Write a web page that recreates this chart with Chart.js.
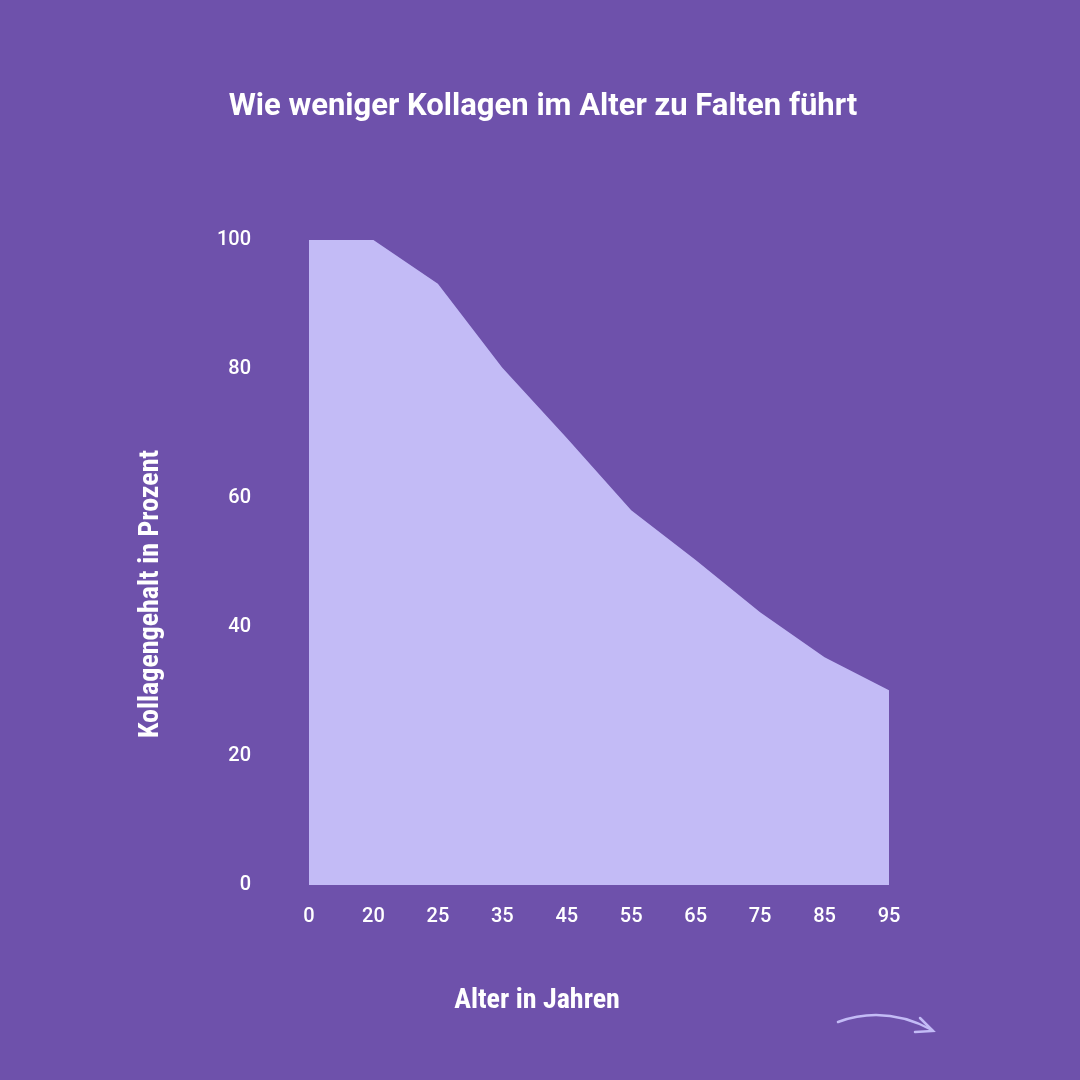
<!DOCTYPE html>
<html><head><meta charset="utf-8">
<script src="https://cdn.jsdelivr.net/npm/chart.js@4"></script>
<style>html,body{margin:0;padding:0;background:#6e51ab;}canvas{display:block;}</style>
</head><body>
<canvas id="c" width="1080" height="1080"></canvas>
<script>
const ages = ["0","20","25","35","45","55","65","75","85","95"];
const collagen = [100,100,93.2,80.2,69.3,58.1,50.4,42.3,35.3,30.2];
const yTicks = [0,20,40,60,80,100];
const title = "Wie weniger Kollagen im Alter zu Falten führt";
const xTitle = "Alter in Jahren";
const yTitle = "Kollagengehalt in Prozent";

const deco = {
  id:'deco',
  afterDraw(chart){
    const ctx = chart.ctx;
    ctx.save();
    ctx.fillStyle = '#ffffff';
    ctx.textAlign = 'center'; ctx.textBaseline = 'middle';
    ctx.font = 'bold 31px Roboto';
    ctx.fillText(title, 543, 107);
    ctx.font = 'bold 28px "Roboto Condensed", Roboto';
    ctx.fillText(xTitle, 537, 1001);
    ctx.translate(151, 594); ctx.rotate(-Math.PI/2);
    ctx.fillText(yTitle, 0, 0);
    ctx.restore();
    ctx.save();
    ctx.strokeStyle = '#c3bbf6'; ctx.lineWidth = 2.5; ctx.lineCap='round';
    ctx.beginPath(); ctx.moveTo(838,1022); ctx.quadraticCurveTo(885,1005,932,1030); ctx.stroke();
    ctx.beginPath(); ctx.moveTo(920,1018); ctx.lineTo(933,1031); ctx.lineTo(915,1032); ctx.stroke();
    ctx.restore();
  }
};

new Chart(document.getElementById('c'), {
  type:'line',
  data:{labels:ages, datasets:[{data:collagen, fill:'origin', backgroundColor:'#c3bbf6', borderWidth:0, pointRadius:0, tension:0}]},
  options:{
    responsive:false, animation:false,
    layout:{padding:{top:240,right:191,bottom:0,left:0}},
    plugins:{legend:{display:false}, tooltip:{enabled:false}},
    scales:{
      x:{offset:false, grid:{display:false}, border:{display:false},
         ticks:{color:'#fff', font:{family:'Roboto', size:20, weight:'500'}, padding:12, maxRotation:0},
         afterFit(s){ s.height = 1080-885; }},
      y:{min:0,max:100, grid:{display:false}, border:{display:false},
         afterBuildTicks(s){ s.ticks = yTicks.map(v=>({value:v})); },
         ticks:{color:'#fff', font:{family:'Roboto', size:20, weight:'500'}, padding:50},
         afterFit(s){ s.width = 309; }}
    }
  },
  plugins:[deco]
});
</script>
</body></html>
